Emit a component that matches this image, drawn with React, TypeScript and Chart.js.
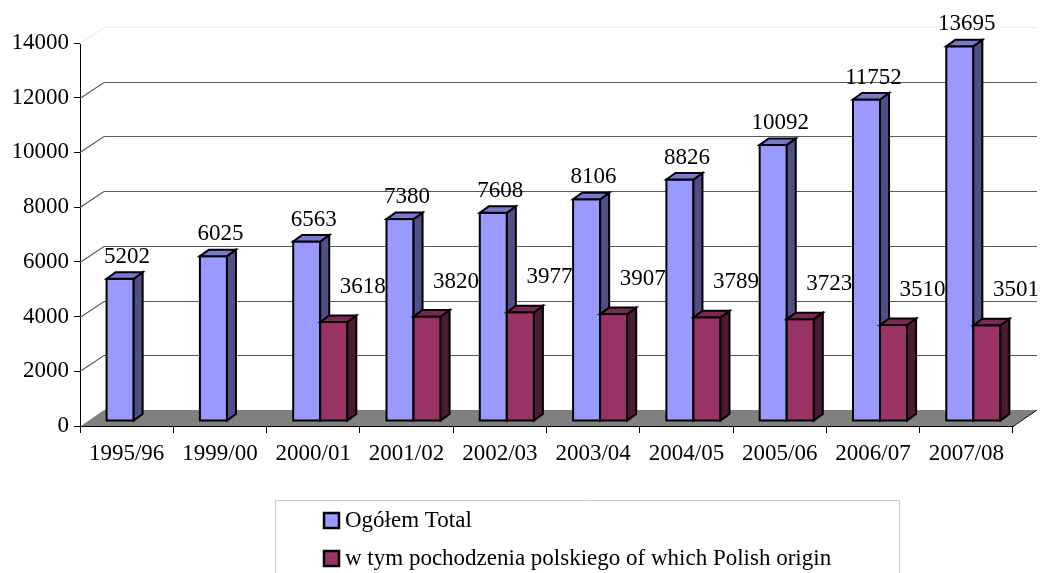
import React, { useEffect, useRef } from "react";
import { Chart, registerables } from "chart.js";

Chart.register(...registerables);

const categories = ["1995/96", "1999/00", "2000/01", "2001/02", "2002/03", "2003/04", "2004/05", "2005/06", "2006/07", "2007/08"];
const totalValues = [5202, 6025, 6563, 7380, 7608, 8106, 8826, 10092, 11752, 13695];
const polishValues = [null, null, 3618, 3820, 3977, 3907, 3789, 3723, 3510, 3501];
const seriesLabels = ["Ogółem Total", "w tym pochodzenia polskiego of which Polish origin"];
const yMin = 0;
const yMax = 14000;
const yStep = 2000;

const FONT_FAMILY = "'Liberation Serif', 'Times New Roman', serif";
const FONT_SIZE = 23;

const frontColors = ["#9999FF", "#993366"];
const sideColors = ["#4F4F85", "#4D1A33"];
const topColors = ["#7878CC", "#7A2952"];

const SHIFT_X = 7;
const SHIFT_Y = -5;
const DEPTH_X = 9;
const DEPTH_Y = -6.5;
const WALL_X = 24;
const WALL_Y = -16;

const threeDPlugin = {
  id: "threeD",
  beforeDatasetsDraw(chart: any) {
    const ctx = chart.ctx;
    const area = chart.chartArea;
    const yScale = chart.scales.y;
    ctx.save();
    // floor
    ctx.fillStyle = "#808080";
    ctx.beginPath();
    ctx.moveTo(area.left + 1, area.bottom);
    ctx.lineTo(area.left + WALL_X, area.bottom + WALL_Y);
    ctx.lineTo(area.right + WALL_X, area.bottom + WALL_Y);
    ctx.lineTo(area.right, area.bottom);
    ctx.closePath();
    ctx.fill();
    ctx.strokeStyle = "#000";
    ctx.lineWidth = 1;
    ctx.beginPath();
    ctx.moveTo(area.right, area.bottom + 0.5);
    ctx.lineTo(area.right + WALL_X, area.bottom + WALL_Y);
    ctx.stroke();
    ctx.beginPath();
    ctx.moveTo(area.left, area.bottom + 0.5);
    ctx.lineTo(area.right, area.bottom + 0.5);
    ctx.stroke();
    // back wall gridlines
    for (let v = yMin + yStep; v <= yMax; v += yStep) {
      const py = Math.round(yScale.getPixelForValue(v)) + 0.5;
      ctx.strokeStyle = v === yMax ? "#ececec" : "#5a5a5a";
      ctx.lineWidth = 1.2;
      ctx.beginPath();
      ctx.moveTo(area.left, py);
      ctx.lineTo(area.left + WALL_X, py + WALL_Y);
      ctx.lineTo(area.right + WALL_X, py + WALL_Y);
      ctx.stroke();
    }
    // value labels
    ctx.fillStyle = "#000";
    ctx.font = `${FONT_SIZE}px ${FONT_FAMILY}`;
    ctx.textAlign = "center";
    ctx.textBaseline = "middle";
    chart.data.datasets.forEach((ds: any, di: number) => {
      const meta = chart.getDatasetMeta(di);
      meta.data.forEach((el: any, i: number) => {
        const val = ds.data[i];
        if (val == null) return;
        const { x, y } = el.getProps(["x", "y"], true);
        if (di === 0) {
          ctx.fillText(String(val), x + SHIFT_X + 7, y + SHIFT_Y - 22);
        } else {
          ctx.fillText(String(val), x + SHIFT_X + 29, y + SHIFT_Y - 35);
        }
      });
    });
    ctx.restore();
  },
  afterDatasetsDraw(chart: any) {
    const ctx = chart.ctx;
    ctx.save();
    ctx.translate(SHIFT_X, SHIFT_Y);
    ctx.lineWidth = 2;
    ctx.strokeStyle = "#000";
    ctx.lineJoin = "miter";
    chart.data.datasets.forEach((ds: any, di: number) => {
      const meta = chart.getDatasetMeta(di);
      meta.data.forEach((el: any, i: number) => {
        if (ds.data[i] == null) return;
        const { x, y, base, width } = el.getProps(["x", "y", "base", "width"], true);
        const left = x - width / 2;
        const right = x + width / 2;
        const top = Math.min(y, base);
        const bottom = Math.max(y, base);
        // front
        ctx.fillStyle = frontColors[di];
        ctx.fillRect(left, top, width, bottom - top);
        ctx.strokeRect(left, top, width, bottom - top);
        // side
        ctx.fillStyle = sideColors[di];
        ctx.beginPath();
        ctx.moveTo(right, top);
        ctx.lineTo(right + DEPTH_X, top + DEPTH_Y);
        ctx.lineTo(right + DEPTH_X, bottom + DEPTH_Y);
        ctx.lineTo(right, bottom);
        ctx.closePath();
        ctx.fill();
        ctx.stroke();
        // top
        ctx.fillStyle = topColors[di];
        ctx.beginPath();
        ctx.moveTo(left, top);
        ctx.lineTo(left + DEPTH_X, top + DEPTH_Y);
        ctx.lineTo(right + DEPTH_X, top + DEPTH_Y);
        ctx.lineTo(right, top);
        ctx.closePath();
        ctx.fill();
        ctx.stroke();
      });
    });
    ctx.restore();
  },
  afterDraw(chart: any) {
    const ctx = chart.ctx;
    ctx.save();
    // legend box
    ctx.strokeStyle = "#c8c8c8";
    ctx.lineWidth = 1;
    ctx.beginPath();
    ctx.moveTo(275.5, chart.height + 2);
    ctx.lineTo(275.5, 500.5);
    ctx.lineTo(899.5, 500.5);
    ctx.lineTo(899.5, chart.height + 2);
    ctx.stroke();
    const rows = [520, 558];
    ctx.font = `${FONT_SIZE}px ${FONT_FAMILY}`;
    ctx.textAlign = "left";
    ctx.textBaseline = "middle";
    seriesLabels.forEach((label, i) => {
      const cy = rows[i];
      ctx.fillStyle = frontColors[i];
      ctx.fillRect(324, cy - 7, 15, 15);
      ctx.strokeStyle = "#000";
      ctx.lineWidth = 2.5;
      ctx.strokeRect(324, cy - 7, 15, 15);
      ctx.fillStyle = "#000";
      ctx.fillText(label, 345, cy + 1);
    });
    ctx.restore();
  },
};

export default function App() {
  const canvasRef = useRef<HTMLCanvasElement | null>(null);

  useEffect(() => {
    if (!canvasRef.current) return;
    const chart = new Chart(canvasRef.current, {
      type: "bar",
      data: {
        labels: categories,
        datasets: [
          {
            label: seriesLabels[0],
            data: totalValues,
            backgroundColor: "rgba(0,0,0,0)",
            borderWidth: 0,
            clip: false,
          } as any,
          {
            label: seriesLabels[1],
            data: polishValues,
            backgroundColor: "rgba(0,0,0,0)",
            borderWidth: 0,
            clip: false,
          } as any,
        ],
      },
      options: {
        animation: false,
        responsive: true,
        maintainAspectRatio: false,
        layout: { padding: { top: 43, right: 29, left: 0, bottom: 0 } },
        datasets: {
          bar: { categoryPercentage: 0.58, barPercentage: 1 },
        },
        plugins: {
          legend: { display: false },
          tooltip: { enabled: false },
          title: { display: false },
        },
        scales: {
          x: {
            offset: true,
            grid: { display: true, drawOnChartArea: false, drawTicks: true, tickLength: 7, color: "#000", offset: true },
            border: { display: true, color: "#000", width: 1 },
            ticks: { color: "#000", font: { family: FONT_FAMILY, size: FONT_SIZE }, padding: 7, maxRotation: 0, autoSkip: false },
            afterFit: (scale: any) => {
              scale.height = 147;
            },
          },
          y: {
            min: yMin,
            max: yMax,
            grid: { display: true, drawOnChartArea: false, drawTicks: true, tickLength: 6, color: "#000" },
            border: { display: true, color: "#000", width: 1 },
            ticks: {
              stepSize: yStep,
              color: "#000",
              font: { family: FONT_FAMILY, size: FONT_SIZE },
              padding: 5,
              callback: (value: any) => String(value),
            },
            afterFit: (scale: any) => {
              scale.width = 80;
            },
          },
        },
      },
      plugins: [threeDPlugin],
    });
    return () => chart.destroy();
  }, []);

  return (
    <div style={{ position: "absolute", left: 0, top: 0, width: 1042, height: 573, background: "#fff" }}>
      <canvas ref={canvasRef} />
    </div>
  );
}
